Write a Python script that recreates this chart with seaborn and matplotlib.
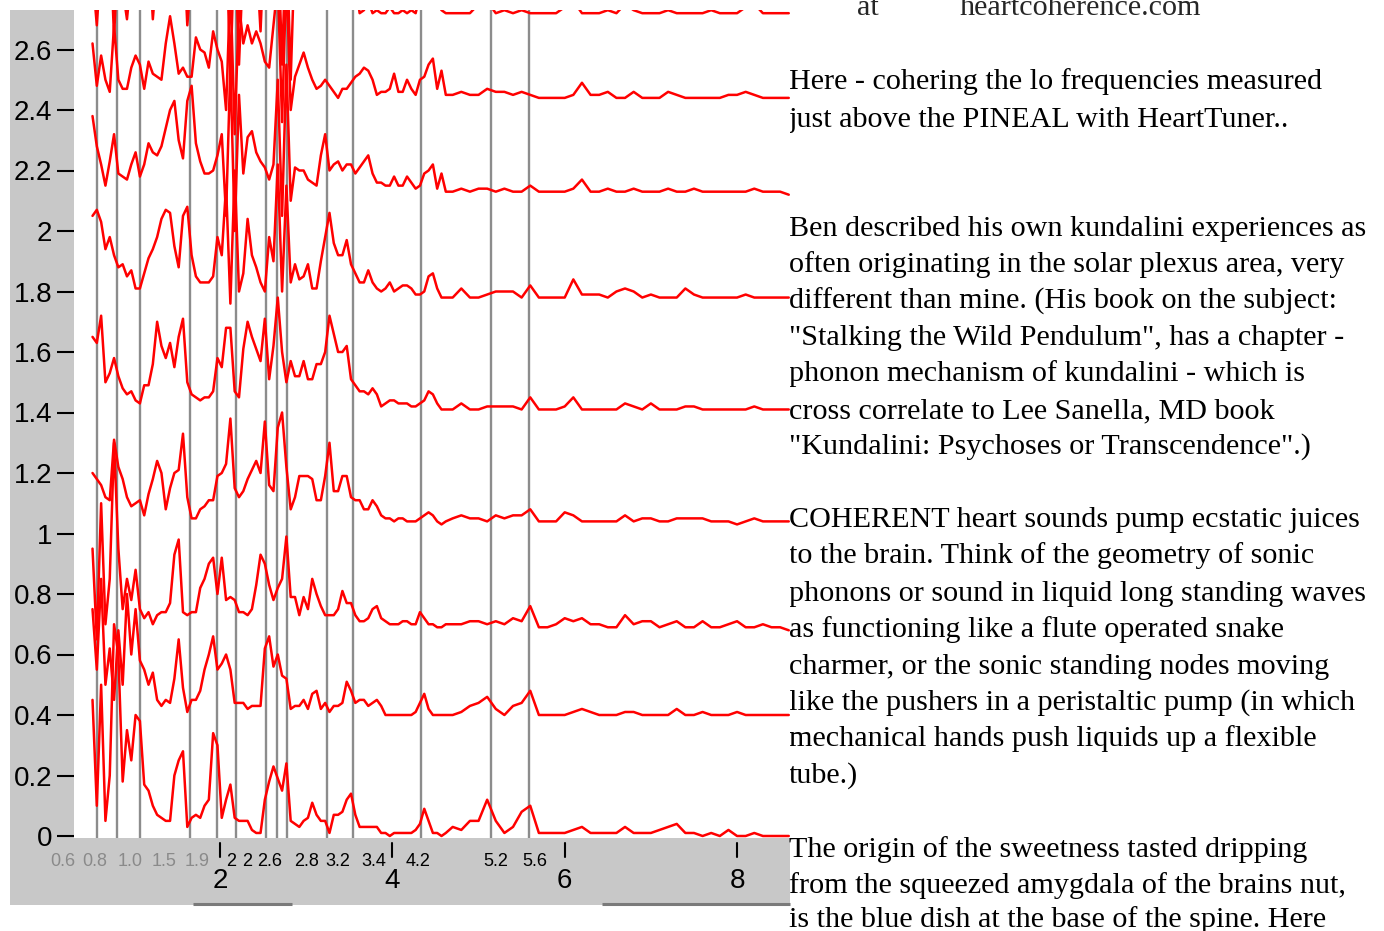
import numpy as np
import pandas as pd
import matplotlib
matplotlib.use("Agg")
import matplotlib.pyplot as plt
import seaborn as sns
from matplotlib.patches import Rectangle
from matplotlib.transforms import blended_transform_factory

# ---------------- data ----------------
freq_low = np.round(np.arange(0.52, 4.63, 0.05), 2)   # 83 bins
freq_high = np.round(np.arange(4.7, 8.65, 0.1), 2)    # 40 bins
freq = np.concatenate([freq_low, freq_high])

# spectra, in hundredths of the vertical unit (each trace offset in the waterfall)
t1_low = [285, 268, 290, 275, 300, 264, 295, 280, 270, 285,
          300, 278, 290, 296, 270, 288, 300, 284, 292, 275,
          290, 300, 268, 286, 295, 280, 300, 292, 276, 300,
          288, 300, 250, 300, 255, 290, 300, 278, 292, 266,
          300, 294, 274, 300, 255, 300, 250, 295, 282, 278,
          284, 287, 281, 280, 276, 283, 288, 285, 278, 277,
          280, 282, 272, 273, 276, 272, 273, 272, 272, 274,
          272, 272, 273, 272, 273, 272, 278, 282, 286, 280,
          276, 273, 272]
t1_high = [272, 272, 272, 275, 276, 272, 273, 272, 273, 272,
           272, 272, 272, 274, 276, 272, 272, 272, 273, 272,
           275, 273, 272, 272, 272, 273, 272, 272, 272, 272,
           273, 272, 272, 272, 274, 275, 272, 272, 272, 272]
t2_low = [262, 248, 258, 250, 246, 268, 250, 247, 247, 254,
          258, 255, 247, 256, 252, 251, 250, 262, 271, 262,
          252, 254, 251, 251, 264, 260, 259, 254, 266, 260,
          256, 240, 282, 232, 275, 262, 268, 262, 266, 262,
          256, 254, 268, 282, 236, 285, 240, 251, 255, 259,
          254, 250, 247, 248, 250, 248, 246, 244, 247, 247,
          249, 251, 252, 254, 253, 250, 245, 246, 246, 247,
          252, 246, 246, 250, 247, 245, 250, 251, 255, 257,
          247, 253, 245]
t2_high = [245, 246, 245, 245, 247, 246, 246, 245, 246, 245,
           244, 244, 244, 244, 245, 249, 245, 245, 246, 244,
           244, 246, 244, 244, 244, 246, 245, 244, 244, 244,
           244, 244, 245, 245, 246, 245, 244, 244, 244, 244]
t3_low = [238, 228, 222, 215, 223, 232, 219, 218, 217, 222,
          226, 218, 222, 229, 226, 225, 228, 234, 240, 243,
          230, 224, 243, 248, 229, 223, 219, 219, 220, 225,
          232, 205, 255, 200, 245, 219, 231, 233, 226, 223,
          221, 217, 222, 250, 205, 255, 210, 221, 220, 220,
          217, 216, 215, 225, 232, 220, 222, 223, 220, 222,
          222, 219, 221, 223, 225, 219, 216, 216, 215, 215,
          218, 215, 215, 218, 216, 214, 215, 219, 220, 222,
          214, 219, 213]
t3_high = [213, 214, 213, 214, 214, 213, 214, 213, 213, 215,
           213, 213, 213, 213, 214, 217, 213, 213, 214, 213,
           213, 214, 213, 213, 213, 214, 213, 213, 214, 213,
           213, 213, 213, 213, 213, 214, 213, 213, 213, 212]
t4_low = [205, 207, 203, 194, 198, 192, 188, 189, 185, 187,
          181, 181, 186, 191, 194, 198, 204, 207, 206, 195,
          188, 205, 208, 192, 185, 183, 183, 183, 185, 198,
          192, 215, 176, 220, 180, 186, 204, 192, 188, 183,
          180, 198, 190, 222, 180, 215, 183, 189, 184, 185,
          189, 181, 181, 190, 198, 206, 196, 192, 192, 197,
          189, 186, 183, 183, 187, 183, 181, 180, 181, 183,
          180, 181, 182, 182, 181, 179, 179, 180, 185, 186,
          181, 178, 178]
t4_high = [178, 181, 178, 178, 179, 180, 180, 180, 178, 182,
           178, 178, 178, 178, 184, 179, 179, 179, 178, 180,
           181, 180, 178, 179, 178, 178, 178, 181, 179, 178,
           178, 178, 178, 178, 179, 178, 178, 178, 178, 178]
t5_low = [165, 163, 172, 150, 153, 158, 152, 148, 146, 147,
          144, 143, 149, 149, 156, 170, 162, 158, 163, 155,
          165, 171, 150, 146, 145, 144, 145, 145, 147, 158,
          155, 168, 168, 147, 145, 161, 170, 165, 161, 157,
          171, 151, 162, 178, 160, 150, 157, 152, 152, 157,
          151, 151, 156, 156, 160, 172, 166, 160, 160, 162,
          151, 149, 147, 147, 146, 148, 146, 142, 143, 144,
          144, 143, 143, 143, 142, 142, 143, 144, 147, 146,
          143, 141, 141]
t5_high = [141, 143, 141, 141, 142, 142, 142, 142, 141, 145,
           141, 141, 141, 142, 145, 141, 141, 141, 141, 141,
           143, 142, 141, 143, 141, 141, 141, 142, 142, 141,
           141, 141, 141, 141, 141, 142, 141, 141, 141, 141]
t6_low = [120, 118, 116, 112, 111, 131, 122, 118, 112, 109,
          110, 111, 106, 113, 118, 124, 120, 108, 115, 120,
          121, 133, 112, 105, 105, 108, 109, 111, 111, 119,
          120, 123, 138, 115, 112, 114, 118, 121, 124, 120,
          137, 116, 114, 135, 140, 122, 108, 112, 119, 119,
          119, 118, 111, 111, 119, 130, 114, 114, 119, 119,
          112, 111, 111, 108, 108, 111, 109, 106, 105, 105,
          104, 105, 105, 104, 104, 104, 105, 106, 107, 106,
          104, 103, 104]
t6_high = [105, 106, 105, 105, 104, 106, 105, 106, 106, 108,
           104, 104, 104, 107, 106, 104, 104, 104, 104, 104,
           106, 104, 105, 105, 104, 104, 105, 105, 105, 105,
           104, 104, 104, 103, 104, 105, 104, 104, 104, 104]
t7_low = [95, 65, 110, 70, 85, 130, 95, 75, 85, 78,
          88, 75, 72, 74, 70, 73, 74, 74, 77, 93,
          98, 74, 73, 74, 74, 82, 85, 90, 92, 80,
          92, 78, 79, 78, 74, 74, 73, 75, 83, 93,
          90, 83, 78, 82, 85, 99, 79, 79, 73, 79,
          75, 85, 80, 76, 73, 73, 73, 75, 81, 77,
          77, 73, 71, 71, 72, 75, 76, 72, 71, 70,
          70, 70, 71, 71, 70, 70, 74, 72, 70, 70,
          69, 69, 70]
t7_high = [70, 70, 71, 71, 70, 71, 70, 72, 71, 76,
           69, 69, 70, 72, 71, 72, 70, 70, 69, 69,
           73, 70, 71, 71, 69, 70, 71, 69, 69, 71,
           69, 69, 70, 71, 69, 69, 70, 69, 69, 68]
t8_low = [75, 55, 85, 50, 62, 45, 68, 50, 80, 60,
          75, 58, 55, 50, 54, 45, 43, 45, 44, 52,
          65, 49, 41, 45, 45, 48, 55, 60, 66, 55,
          57, 60, 55, 44, 44, 44, 42, 43, 43, 43,
          62, 66, 56, 60, 53, 52, 42, 43, 43, 45,
          42, 47, 48, 42, 44, 41, 43, 43, 44, 51,
          48, 44, 45, 45, 43, 44, 45, 43, 40, 40,
          40, 40, 40, 40, 40, 41, 44, 47, 42, 40,
          40, 40, 40]
t8_high = [40, 41, 43, 44, 46, 42, 40, 43, 44, 48,
           40, 40, 40, 40, 41, 42, 41, 40, 40, 40,
           41, 41, 40, 40, 40, 40, 42, 40, 40, 41,
           40, 40, 40, 41, 40, 40, 40, 40, 40, 40]
t9_low = [45, 10, 50, 5, 20, 70, 60, 18, 35, 25,
          40, 38, 17, 15, 10, 7, 6, 5, 5, 20,
          25, 28, 3, 6, 7, 6, 10, 12, 34, 30,
          6, 12, 17, 6, 5, 5, 5, 2, 1, 1,
          12, 18, 23, 19, 15, 24, 5, 4, 3, 5,
          6, 11, 7, 5, 5, 1, 7, 7, 8, 12,
          14, 7, 3, 3, 3, 3, 3, 1, 1, 0,
          1, 1, 1, 1, 1, 2, 4, 9, 5, 1,
          1, 0, 1]
t9_high = [3, 2, 5, 5, 12, 5, 1, 3, 8, 10,
           1, 1, 1, 1, 2, 3, 1, 1, 1, 1,
           3, 1, 1, 1, 2, 3, 4, 1, 1, 0,
           1, 0, 2, 0, 0, 1, 0, 0, 0, 0]

traces = {
    "t1": t1_low + t1_high, "t2": t2_low + t2_high, "t3": t3_low + t3_high,
    "t4": t4_low + t4_high, "t5": t5_low + t5_high, "t6": t6_low + t6_high,
    "t7": t7_low + t7_high, "t8": t8_low + t8_high, "t9": t9_low + t9_high,
}
for k, v in traces.items():
    assert len(v) == len(freq), (k, len(v), len(freq))

marker_freqs = [0.572, 0.81, 1.071, 1.657, 1.965, 2.18, 2.53, 2.66, 2.78,
                3.247, 3.543, 4.33, 5.144, 5.585]
marker_labels = ["0.6", "0.8", "1.0", "1.5", "1.9", "2", "2", "2.6", "2.8",
                 "3.2", "3.4", "4.2", "5.2", "5.6"]
marker_label_pos = [0.178, 0.549, 0.955, 1.35, 1.733, 2.127, 2.313, 2.58, 3.009,
                    3.369, 3.786, 4.297, 5.2, 5.655]
major_ticks = [2, 4, 6, 8]
y_ticks = [0, 0.2, 0.4, 0.6, 0.8, 1, 1.2, 1.4, 1.6, 1.8, 2, 2.2, 2.4, 2.6]
y_tick_labels = ["0", "0.2", "0.4", "0.6", "0.8", "1", "1.2", "1.4", "1.6",
                 "1.8", "2", "2.2", "2.4", "2.6"]

header_at = "at"
header_site = "heartcoherence.com"
text_lines = [
    (89, "Here - cohering the lo frequencies measured"),
    (127, "just above the PINEAL with HeartTuner.."),
    (236, "Ben described his own kundalini experiences as"),
    (272, "often originating in the solar plexus area, very"),
    (309, "different than mine. (His book on the subject:"),
    (345, "\"Stalking the Wild Pendulum\", has a chapter -"),
    (381, "phonon mechanism of kundalini - which is"),
    (418, "cross correlate to Lee Sanella, MD book"),
    (454, "\"Kundalini: Psychoses or Transcendence\".)"),
    (527, "COHERENT heart sounds pump ecstatic juices"),
    (563, "to the brain. Think of the geometry of sonic"),
    (601, "phonons or sound in liquid long standing waves"),
    (637, "as functioning like a flute operated snake"),
    (674, "charmer, or the sonic standing nodes moving"),
    (710, "like the pushers in a peristaltic pump (in which"),
    (746, "mechanical hands push liquids up a flexible"),
    (783, "tube.)"),
    (857, "The origin of the sweetness tasted dripping"),
    (893, "from the squeezed amygdala of the brains nut,"),
    (927, "is the blue dish at the base of the spine. Here"),
]

# ---------------- figure ----------------
W, H = 1384, 931
sns.set_theme(style="white")
plt.rcParams["font.family"] = ["Liberation Sans", "DejaVu Sans"]

GREY = "#c8c8c8"
fig = plt.figure(figsize=(W / 100, H / 100), dpi=100)
fig.patch.set_facecolor("white")

bg = fig.add_axes([0, 0, 1, 1])
bg.set_xlim(0, W)
bg.set_ylim(H, 0)
bg.axis("off")
bg.add_patch(Rectangle((10, 10), 64, 895, facecolor=GREY, lw=0))
bg.add_patch(Rectangle((10, 838), 780, 67, facecolor=GREY, lw=0))
bg.plot([193, 292], [904, 904], color="#7a7a7a", lw=2.2, solid_capstyle="butt")
bg.plot([602, 790], [904, 904], color="#7a7a7a", lw=2.2, solid_capstyle="butt")

ax_l, ax_r, ax_t, ax_b = 74, 790, 10, 838
ax = fig.add_axes([ax_l / W, (H - ax_b) / H, (ax_r - ax_l) / W, (ax_b - ax_t) / H])
ax.set_facecolor("white")

for xm in marker_freqs:
    ax.axvline(xm, color="#8c8c8c", lw=1.7, zorder=1)

rows = []
for name, vals in traces.items():
    for f, v in zip(freq, vals):
        rows.append((name, f, v / 100.0))
df = pd.DataFrame(rows, columns=["trace", "freq", "power"])
sns.lineplot(data=df, x="freq", y="power", units="trace", estimator=None,
             sort=False, color="#ff0000", linewidth=1.8, ax=ax, legend=False,
             zorder=3)

px_per_unit = 86.17
x0_px = 47.7
ax.set_xlim((ax_l - x0_px) / px_per_unit, (ax_r - x0_px) / px_per_unit)
ax.set_ylim(-(838 - 836) / 302.5, (836 - 10) / 302.5)
ax.set_xlabel("")
ax.set_ylabel("")
ax.set_xticks([])
ax.set_yticks(y_ticks)
ax.set_yticklabels(y_tick_labels)
ax.tick_params(axis="y", direction="out", length=12, width=1.5, pad=3.5,
               labelsize=20, colors="black", left=True)
for s in ax.spines.values():
    s.set_visible(False)

trans = blended_transform_factory(ax.transData, bg.transData)
for xm in major_ticks:
    bg.plot([xm, xm], [843, 857], color="black", lw=1.5, transform=trans)
    bg.text(xm, 881, str(xm), transform=trans, ha="center", va="center",
            fontsize=20, color="black")
for i, (lab, xp) in enumerate(zip(marker_labels, marker_label_pos)):
    c = "#8a8a8a" if i < 5 else "black"
    bg.text(xp, 861, lab, transform=trans, ha="center", va="center",
            fontsize=13, color=c)

serif = ["Liberation Serif", "DejaVu Serif"]
bg.text(857, 15, header_at, family=serif, fontsize=21.7, va="baseline", ha="left")
bg.text(960, 15, header_site, family=serif, fontsize=21.7, va="baseline", ha="left")
for yb, line in text_lines:
    bg.text(789, yb, line, family=serif, fontsize=21.7, va="baseline", ha="left",
            color="black")

fig.savefig("out.png", dpi=100)
